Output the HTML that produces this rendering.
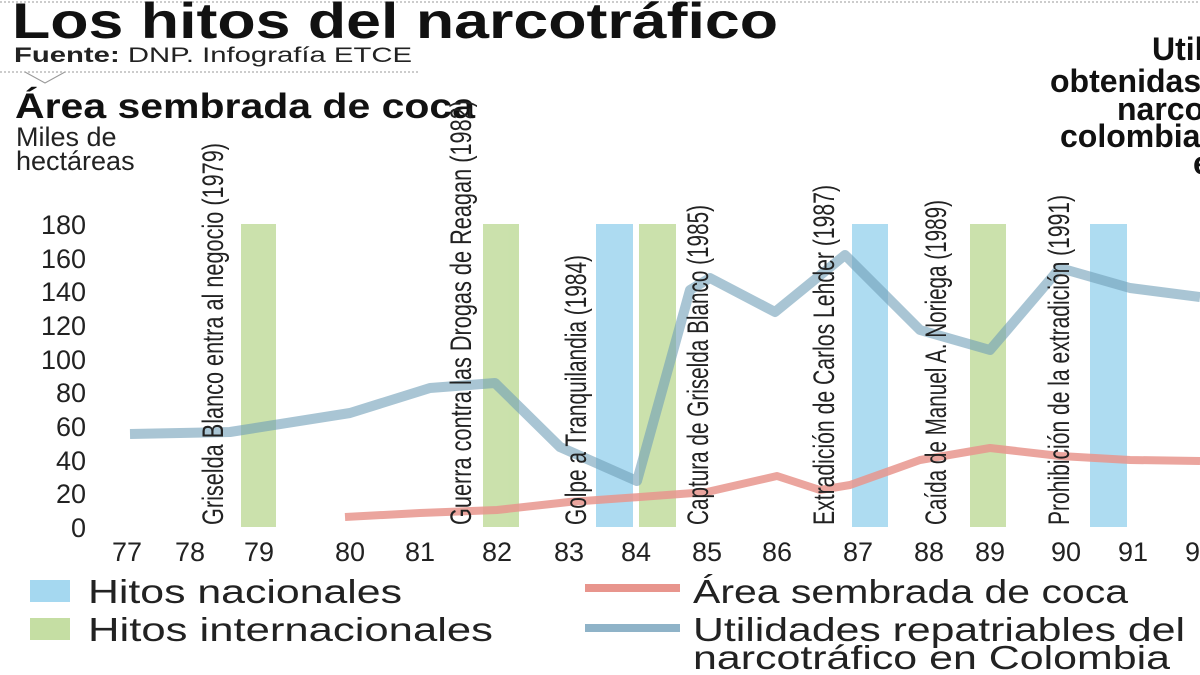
<!DOCTYPE html>
<html><head><meta charset="utf-8"><style>
body{margin:0;background:#fff;}
svg{display:block;font-family:"Liberation Sans",sans-serif;}
</style></head><body>
<svg width="1200" height="675" viewBox="0 0 1200 675">
<line x1="0" y1="2" x2="1200" y2="2" stroke="#999" stroke-dasharray="2,2"/>
<line x1="0" y1="72" x2="420" y2="72" stroke="#999" stroke-dasharray="2,2"/>
<polyline points="25,72 45,83 65,72" fill="none" stroke="#999"/>
<text x="12" y="38" font-size="50" font-weight="bold" fill="#111" textLength="766" lengthAdjust="spacingAndGlyphs">Los hitos del narcotráfico</text>
<text x="14" y="62" font-size="21" fill="#222" textLength="398" lengthAdjust="spacingAndGlyphs"><tspan font-weight="bold">Fuente:</tspan> DNP. Infografía ETCE</text>
<text x="15" y="118" font-size="35" font-weight="bold" fill="#111" textLength="460" lengthAdjust="spacingAndGlyphs">Área sembrada de coca</text>
<text x="16" y="146" font-size="27" fill="#222">Miles de</text>
<text x="16" y="170" font-size="27" fill="#222">hectáreas</text>
<g font-size="32" font-weight="bold" fill="#111">
<text x="1152" y="60">Utilidades</text>
<text x="1050" y="92">obtenidas por el</text>
<text x="1117" y="120">narcotráfico</text>
<text x="1060" y="147">colombiano</text>
<text x="1193" y="174">en</text>
</g>
<g opacity="0.9">
<rect x="241" y="224" width="35" height="303" fill="#c5dea3"/>
<rect x="483" y="224" width="36" height="303" fill="#c5dea3"/>
<rect x="596" y="224" width="37" height="303" fill="#a5d8f0"/>
<rect x="639" y="224" width="37" height="303" fill="#c5dea3"/>
<rect x="852" y="224" width="36" height="303" fill="#a5d8f0"/>
<rect x="970" y="224" width="36" height="303" fill="#c5dea3"/>
<rect x="1090" y="224" width="37" height="303" fill="#a5d8f0"/>
</g>
<g font-size="27" fill="#222" text-anchor="end">
<text x="86" y="537">0</text><text x="86" y="503">20</text><text x="86" y="470">40</text><text x="86" y="436">60</text><text x="86" y="402">80</text><text x="86" y="369">100</text><text x="86" y="335">120</text><text x="86" y="301">140</text><text x="86" y="268">160</text><text x="86" y="234">180</text>
</g>
<g font-size="27" fill="#222" text-anchor="middle">
<text x="127" y="561">77</text><text x="190" y="561">78</text><text x="259" y="561">79</text><text x="350" y="561">80</text><text x="420" y="561">81</text><text x="497" y="561">82</text><text x="569" y="561">83</text><text x="636" y="561">84</text><text x="707" y="561">85</text><text x="777" y="561">86</text><text x="858" y="561">87</text><text x="929" y="561">88</text><text x="990" y="561">89</text><text x="1066" y="561">90</text><text x="1133" y="561">91</text><text x="1200" y="561">92</text>
</g>
<polyline points="345,517 420,513 497,510 569,502 640,497 707,492 777,476 820,490 850,485 920,460 990,448 1060,456 1130,460 1200,461" fill="none" stroke="#e8958d" stroke-width="8" stroke-opacity="0.85" stroke-linejoin="round"/>
<polyline points="130,434 230,432 350,413 430,388 495,383 560,447 637,481 690,290 710,278 775,312 845,255 920,330 990,350 1060,268 1130,288 1200,297" fill="none" stroke="#6f9fb8" stroke-width="10" stroke-opacity="0.6" stroke-linejoin="round"/>
<g font-size="30" fill="#222">
<text transform="translate(223,525) rotate(-90)" textLength="382" lengthAdjust="spacingAndGlyphs">Griselda Blanco entra al negocio (1979)</text>
<text transform="translate(471,525) rotate(-90)" textLength="425" lengthAdjust="spacingAndGlyphs">Guerra contra las Drogas de Reagan (1982)</text>
<text transform="translate(586,525) rotate(-90)" textLength="270" lengthAdjust="spacingAndGlyphs">Golpe a Tranquilandia (1984)</text>
<text transform="translate(708,525) rotate(-90)" textLength="320" lengthAdjust="spacingAndGlyphs">Captura de Griselda Blanco (1985)</text>
<text transform="translate(834,525) rotate(-90)" textLength="340" lengthAdjust="spacingAndGlyphs">Extradición de Carlos Lehder (1987)</text>
<text transform="translate(946,525) rotate(-90)" textLength="325" lengthAdjust="spacingAndGlyphs">Caída de Manuel A. Noriega (1989)</text>
<text transform="translate(1069,525) rotate(-90)" textLength="330" lengthAdjust="spacingAndGlyphs">Prohibición de la extradición (1991)</text>
</g>
<rect x="30" y="580" width="40" height="22" fill="#a5d8f0"/>
<rect x="30" y="618" width="40" height="22" fill="#c5dea3"/>
<g font-size="33" fill="#222">
<text x="88" y="603" textLength="314" lengthAdjust="spacingAndGlyphs">Hitos nacionales</text>
<text x="88" y="641" textLength="405" lengthAdjust="spacingAndGlyphs">Hitos internacionales</text>
<text x="693" y="603" textLength="435" lengthAdjust="spacingAndGlyphs">Área sembrada de coca</text>
<text x="693" y="641" textLength="492" lengthAdjust="spacingAndGlyphs">Utilidades repatriables del</text>
<text x="693" y="669" textLength="477" lengthAdjust="spacingAndGlyphs">narcotráfico en Colombia</text>
</g>
<line x1="585" y1="588" x2="680" y2="588" stroke="#e8958d" stroke-width="8"/>
<line x1="585" y1="628" x2="680" y2="628" stroke="#8fb3c8" stroke-width="8"/>
</svg>
</body></html>
